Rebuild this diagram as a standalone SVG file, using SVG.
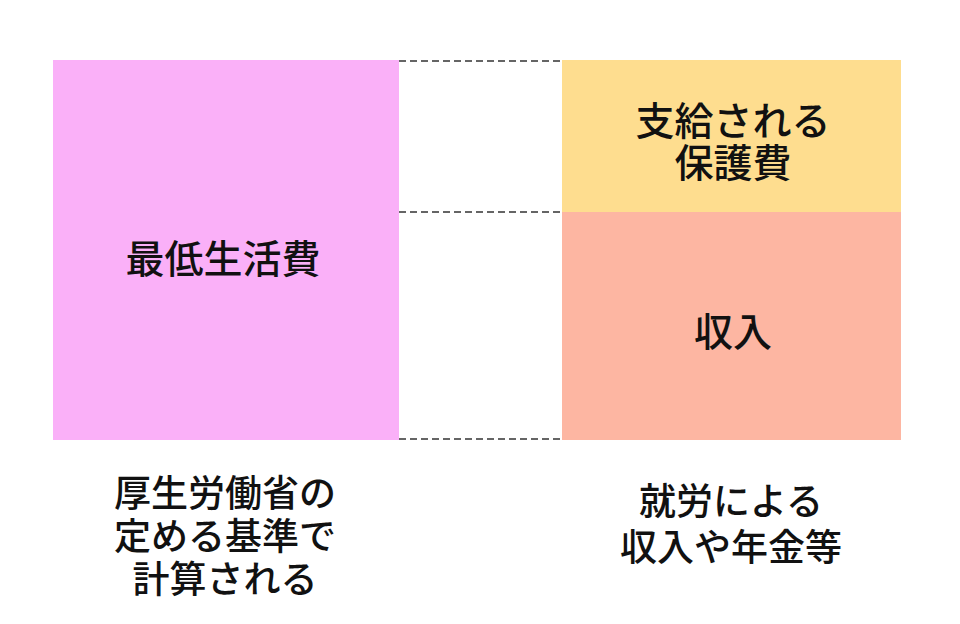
<svg xmlns="http://www.w3.org/2000/svg" width="960" height="624" viewBox="0 0 960 624">
<style>
text{font-family:"Noto Sans CJK JP","Noto Sans",sans-serif;font-weight:500;fill:#111;text-anchor:middle;dominant-baseline:central}
.big{font-size:39px}
.cap{font-size:37px}
.dash{stroke:#333;stroke-width:1.3;stroke-dasharray:7,4;fill:none}
</style>
<rect width="960" height="624" fill="#fff"/>
<g id="min-living">
<rect x="53" y="60" width="346" height="380" fill="#FAB0F8"/>
<text class="big" x="223" y="256">最低生活費</text>
</g>
<g id="benefit">
<rect x="562" y="60" width="339" height="152" fill="#FEDD8F"/>
<text class="big" x="733" y="118">支給される</text>
<text class="big" x="733" y="160">保護費</text>
</g>
<g id="income">
<rect x="562" y="212" width="339" height="228" fill="#FDB6A2"/>
<text class="big" x="733" y="329">収入</text>
</g>
<g id="connectors">
<line class="dash" x1="399" y1="61" x2="562" y2="61"/>
<line class="dash" x1="399" y1="212" x2="562" y2="212"/>
<line class="dash" x1="399" y1="439" x2="562" y2="439"/>
</g>
<g id="caption-left">
<text class="cap" x="225" y="491">厚生労働省の</text>
<text class="cap" x="225" y="534">定める基準で</text>
<text class="cap" x="225" y="577">計算される</text>
</g>
<g id="caption-right">
<text class="cap" x="731" y="499">就労による</text>
<text class="cap" x="731" y="545">収入や年金等</text>
</g>
</svg>
